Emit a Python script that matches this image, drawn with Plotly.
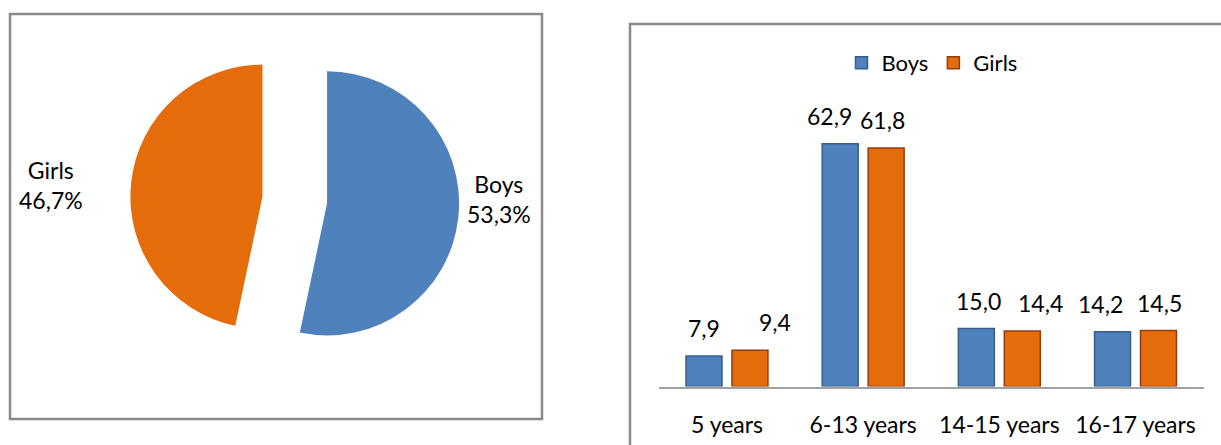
import plotly.graph_objects as go

# ---- data ----
pie_labels = ["Boys", "Girls"]
pie_values = [53.3, 46.7]

categories = ["5 years", "6-13 years", "14-15 years", "16-17 years"]
boys = [7.9, 62.9, 15.0, 14.2]
girls = [9.4, 61.8, 14.4, 14.5]

# ---- style ----
BLUE = "#4F81BD"
BLUE_EDGE = "#385D8A"
ORANGE = "#E46C0A"
ORANGE_EDGE = "#943C10"
BORDER = "#8A8A8A"
FONT = "Lato"
W, H = 1221, 445

def fmt(v, pct=False):
    s = f"{v:.1f}".replace(".", ",")
    return s + ("%" if pct else "")

fig = go.Figure()

# Pie (left panel)
fig.add_trace(go.Pie(
    labels=pie_labels,
    values=pie_values,
    sort=False,
    direction="clockwise",
    rotation=0,
    pull=[0.246, 0.246],
    marker=dict(colors=[BLUE, ORANGE], line=dict(width=0)),
    textinfo="none",
    showlegend=False,
    domain=dict(x=[130.25 / W, 459.25 / W], y=[1 - 364.5 / H, 1 - 35.5 / H]),
))

# Bars (right panel)
fig.add_trace(go.Bar(
    x=categories, y=boys, name="Boys",
    marker=dict(color=BLUE, line=dict(color=BLUE_EDGE, width=1.5)),
    xaxis="x", yaxis="y",
))
fig.add_trace(go.Bar(
    x=categories, y=girls, name="Girls",
    marker=dict(color=ORANGE, line=dict(color=ORANGE_EDGE, width=1.5)),
    xaxis="x", yaxis="y",
))

annotations = []
# pie labels
pie_label_pos = {"Boys": (499 / W, 1 - 199 / H), "Girls": (51 / W, 1 - 185 / H)}
for lab, val in zip(pie_labels, pie_values):
    px_, py_ = pie_label_pos[lab]
    annotations.append(dict(
        x=px_, y=py_, xref="paper", yref="paper",
        text=f"{lab}<br>{fmt(val, True)}", showarrow=False,
        xanchor="center", yanchor="middle", align="center",
        font=dict(family=FONT, size=23, color="#000000"),
    ))

# bar data labels
boys_nudge = [0, -11, 2, -12]
girls_nudge = [25, -4, 18, 1]
slot_off = 23
for cat, v, n in zip(categories, boys, boys_nudge):
    annotations.append(dict(
        x=cat, y=v, xref="x", yref="y", text=fmt(v), showarrow=False,
        xanchor="center", yanchor="bottom", xshift=-slot_off + n, yshift=12,
        font=dict(family=FONT, size=23, color="#000000"),
    ))
for cat, v, n in zip(categories, girls, girls_nudge):
    annotations.append(dict(
        x=cat, y=v, xref="x", yref="y", text=fmt(v), showarrow=False,
        xanchor="center", yanchor="bottom", xshift=slot_off + n, yshift=12,
        font=dict(family=FONT, size=23, color="#000000"),
    ))

shapes = [
    dict(type="rect", xref="paper", yref="paper",
         x0=10 / W, x1=542 / W, y0=1 - 419 / H, y1=1 - 14 / H,
         line=dict(color=BORDER, width=2.5), fillcolor="rgba(0,0,0,0)"),
    dict(type="rect", xref="paper", yref="paper",
         x0=630 / W, x1=1.05, y0=-0.05, y1=1 - 24 / H,
         line=dict(color=BORDER, width=2.5), fillcolor="rgba(0,0,0,0)"),
]

fig.update_layout(
    width=W, height=H, autosize=False,
    margin=dict(l=0, r=0, t=0, b=0),
    paper_bgcolor="white", plot_bgcolor="white",
    font=dict(family=FONT, size=22, color="#000000"),
    barmode="group", bargap=0.325, bargroupgap=0.217,
    xaxis=dict(
        domain=[658.9 / W, 1203.6 / W],
        anchor="y",
        showline=True, linecolor="#A0A0A0", linewidth=2,
        showgrid=False, zeroline=False, ticks="",
        tickfont=dict(family=FONT, size=23, color="#000000"),
        ticklabelstandoff=17,
        fixedrange=True,
    ),
    yaxis=dict(
        domain=[1 - 386.5 / H, 1 - 100 / H],
        anchor="x",
        range=[0, 286.5 / 3.86],
        showline=False, showgrid=False, zeroline=False,
        showticklabels=False, ticks="",
        fixedrange=True,
    ),
    legend=dict(
        orientation="h", x=932 / W, y=1 - 63 / H,
        xanchor="center", yanchor="middle",
        font=dict(family=FONT, size=22, color="#000000"),
        bgcolor="rgba(0,0,0,0)",
        itemclick=False, itemdoubleclick=False,
    ),
    annotations=annotations,
    shapes=shapes,
)

fig.write_html(
    "out.html",
    config={"displayModeBar": False},
    post_script="document.body.style.margin='0';document.body.style.overflow='hidden';",
)
